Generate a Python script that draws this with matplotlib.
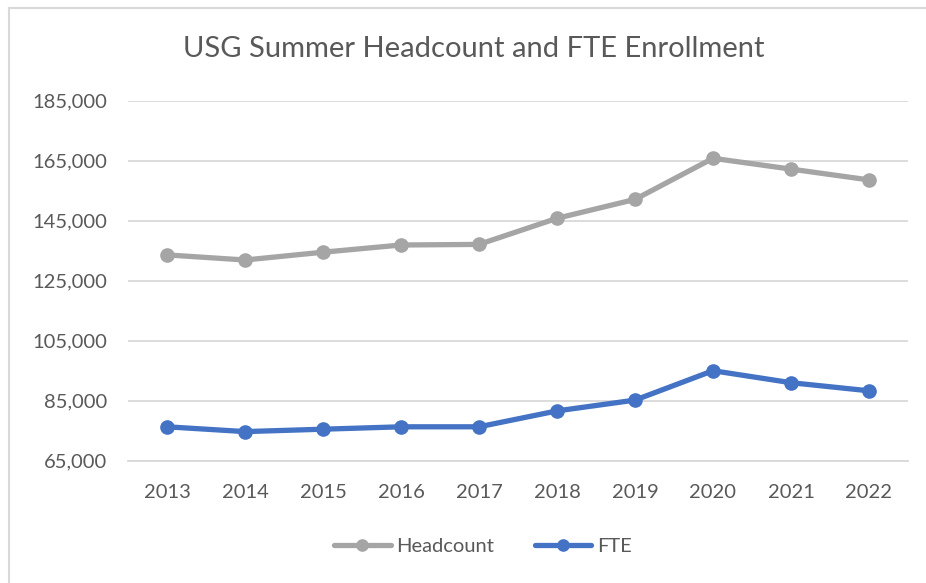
import matplotlib
matplotlib.use("Agg")
import matplotlib.pyplot as plt
from matplotlib.ticker import FuncFormatter, FixedLocator
from matplotlib.lines import Line2D

years = ["2013", "2014", "2015", "2016", "2017", "2018", "2019", "2020", "2021", "2022"]
headcount = [133600, 131900, 134500, 136900, 137100, 145800, 152100, 165800, 162200, 158600]
fte = [76300, 74700, 75500, 76300, 76300, 81600, 85200, 95000, 91000, 88300]
yticks = [65000, 85000, 105000, 125000, 145000, 165000, 185000]

plt.rcParams['font.family'] = ['Lato', 'DejaVu Sans']
W, H = 926, 583
fig = plt.figure(figsize=(W / 100, H / 100), dpi=100)

# chart border (top & left visible)
fig.add_artist(Line2D([9 / W, 9 / W], [0, 1 - 8 / H], transform=fig.transFigure, color="#d9d9d9", lw=1.5))
fig.add_artist(Line2D([9 / W, 1], [1 - 8 / H, 1 - 8 / H], transform=fig.transFigure, color="#d9d9d9", lw=1.5))

ax = fig.add_axes([128 / W, 1 - 460.7 / H, 780 / W, 360 / H])
x = list(range(len(years)))
ax.plot(x, headcount, color="#A5A5A5", lw=3.8, marker="o", markersize=9.5, label="Headcount", solid_capstyle="round")
ax.plot(x, fte, color="#4472C4", lw=3.8, marker="o", markersize=9.5, label="FTE", solid_capstyle="round")

ax.set_xlim(-0.5, len(years) - 0.5)
ax.set_ylim(65000, 185000)
ax.yaxis.set_major_locator(FixedLocator(yticks))
ax.yaxis.set_major_formatter(FuncFormatter(lambda v, p: f"{int(v):,}"))
ax.set_xticks(x)
ax.set_xticklabels(years)
ax.grid(axis="y", color="#d9d9d9", lw=1.3)
ax.set_axisbelow(True)
for s in ["top", "right", "left"]:
    ax.spines[s].set_visible(False)
ax.spines["bottom"].set_color("#d9d9d9")
ax.spines["bottom"].set_linewidth(1.3)
ax.tick_params(axis="both", length=0, labelsize=14.5, colors="#595959")
ax.tick_params(axis="y", pad=15)
ax.tick_params(axis="x", pad=17)

fig.text(474 / W, 1 - 49 / H, "USG Summer Headcount and FTE Enrollment", ha="center", va="center",
         fontsize=21, color="#595959")

leg = fig.legend(loc="center", bbox_to_anchor=(483 / W, 1 - 546 / H), ncol=2, frameon=False,
                 fontsize=14.5, handlelength=2.8, columnspacing=2.0, handletextpad=0.3, markerscale=0.85)
for t in leg.get_texts():
    t.set_color("#595959")

fig.savefig("out.png", dpi=100)
